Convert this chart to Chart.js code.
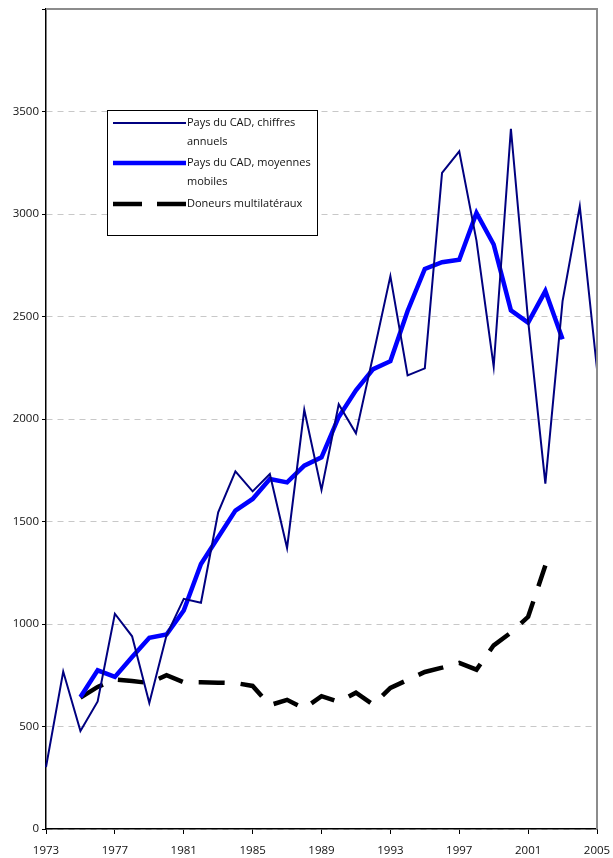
<!DOCTYPE html>
<html>
<head>
<meta charset="utf-8">
<script src="https://cdn.jsdelivr.net/npm/chart.js@4/dist/chart.umd.min.js"></script>
<style>
  html, body { margin: 0; padding: 0; background: #fff; }
  canvas { display: block; }
</style>
</head>
<body>
<canvas id="chart" width="613" height="858"></canvas>
<script>
// years 1973..2005
const annees = ['1973','1974','1975','1976','1977','1978','1979','1980','1981','1982','1983',
  '1984','1985','1986','1987','1988','1989','1990','1991','1992','1993','1994','1995',
  '1996','1997','1998','1999','2000','2001','2002','2003','2004','2005'];

// Pays du CAD, chiffres annuels
const cadAnnuels = [302, 768, 478, 622, 1050, 940, 615, 945, 1123, 1104, 1545,
  1745, 1647, 1732, 1371, 2045, 1654, 2072, 1930, 2310, 2697, 2213, 2247,
  3200, 3306, 2870, 2255, 3416, 2480, 1685, 2575, 3038, 2243];

// Pays du CAD, moyennes mobiles
const cadMoyennes = [null, null, 644, 774, 742, 839, 933, 949, 1066, 1293, 1423,
  1553, 1610, 1707, 1691, 1772, 1813, 2010, 2140, 2243, 2282, 2527, 2732,
  2765, 2777, 3005, 2851, 2530, 2470, 2624, 2389, null, null];

// Doneurs multilatéraux
const multilateraux = [null, null, 641, 693, 729, 722, 712, 750, 716, 716, 714,
  712, 698, 604, 630, 588, 648, 620, 665, 607, 688, 727, 766,
  787, 810, 777, 896, 958, 1035, 1285, null, null, null];

const legendeLignes = [
  ['Pays du CAD, chiffres', 'annuels'],
  ['Pays du CAD, moyennes', 'mobiles'],
  ['Doneurs multilatéraux']
];

const famille = '"Open Sans", "Noto Sans", sans-serif';

// cadre gris (haut / droite) + légende
const extras = {
  id: 'extras',
  afterDraw(chart) {
    const ctx = chart.ctx;
    const a = chart.chartArea;
    ctx.save();
    ctx.strokeStyle = '#8c8c8c';
    ctx.lineWidth = 2;
    ctx.beginPath();
    ctx.moveTo(a.left, a.top);
    ctx.lineTo(a.right, a.top);
    ctx.lineTo(a.right, a.bottom);
    ctx.stroke();

    // légende
    const bx = 107.5, by = 110.5, bw = 210, bh = 125;
    ctx.fillStyle = '#fff';
    ctx.fillRect(bx, by, bw, bh);
    ctx.strokeStyle = '#000';
    ctx.lineWidth = 1;
    ctx.strokeRect(bx, by, bw, bh);

    const ys = [123, 163, 204];
    ctx.font = '11px ' + famille;
    ctx.textBaseline = 'middle';
    chart.data.datasets.forEach((ds, i) => {
      ctx.save();
      ctx.strokeStyle = ds.borderColor;
      ctx.lineWidth = ds.borderWidth;
      ctx.lineCap = 'butt';
      if (ds.borderDash) ctx.setLineDash([29, 15]);
      ctx.beginPath();
      ctx.moveTo(113, ys[i]);
      ctx.lineTo(186, ys[i]);
      ctx.stroke();
      ctx.restore();
      ctx.fillStyle = '#111';
      legendeLignes[i].forEach((t, j) => {
        ctx.fillText(t, 187, ys[i] + j * 19);
      });
    });
    ctx.restore();
  }
};

new Chart(document.getElementById('chart'), {
  type: 'line',
  data: {
    labels: annees,
    datasets: [
      {
        label: 'Pays du CAD, chiffres annuels',
        data: cadAnnuels,
        borderColor: '#000080',
        borderWidth: 2,
        pointRadius: 0,
        tension: 0
      },
      {
        label: 'Pays du CAD, moyennes mobiles',
        data: cadMoyennes,
        borderColor: '#0000ff',
        borderWidth: 4.5,
        pointRadius: 0,
        tension: 0
      },
      {
        label: 'Doneurs multilatéraux',
        data: multilateraux,
        borderColor: '#000000',
        borderWidth: 4.5,
        borderDash: [26, 16],
        borderCapStyle: 'butt',
        pointRadius: 0,
        tension: 0
      }
    ]
  },
  options: {
    responsive: false,
    animation: false,
    layout: { padding: { top: 9, right: 16, left: 0, bottom: 0 } },
    plugins: {
      legend: { display: false },
      tooltip: { enabled: false }
    },
    scales: {
      x: {
        type: 'category',
        offset: false,
        grid: {
          drawOnChartArea: false,
          drawTicks: true,
          tickLength: 5,
          color: '#000'
        },
        border: { display: true, color: '#000', width: 1.5 },
        ticks: {
          autoSkip: false,
          maxRotation: 0,
          padding: 10,
          color: '#111',
          font: { family: famille, size: 11.5 },
          callback: function (val, idx) {
            return (idx % 4 === 0) ? annees[idx] : null;
          }
        },
        afterFit: s => { s.height = 29; s.paddingLeft = 0; s.paddingRight = 0; }
      },
      y: {
        min: 0,
        max: 4000,
        grid: {
          color: ctx => ctx.tick && ctx.tick.value === 4000 ? 'rgba(0,0,0,0)' : '#c8c8c8',
          tickColor: '#000',
          tickLength: 4,
          lineWidth: 1
        },
        border: { display: true, color: '#000', width: 1.5, dash: [6, 5] },
        ticks: {
          stepSize: 500,
          padding: 3,
          color: '#111',
          font: { family: famille, size: 11.5 },
          callback: v => v === 4000 ? '' : v
        },
        afterFit: s => { s.width = 46; s.paddingTop = 0; s.paddingBottom = 0; }
      }
    }
  },
  plugins: [extras]
});
</script>
</body>
</html>
